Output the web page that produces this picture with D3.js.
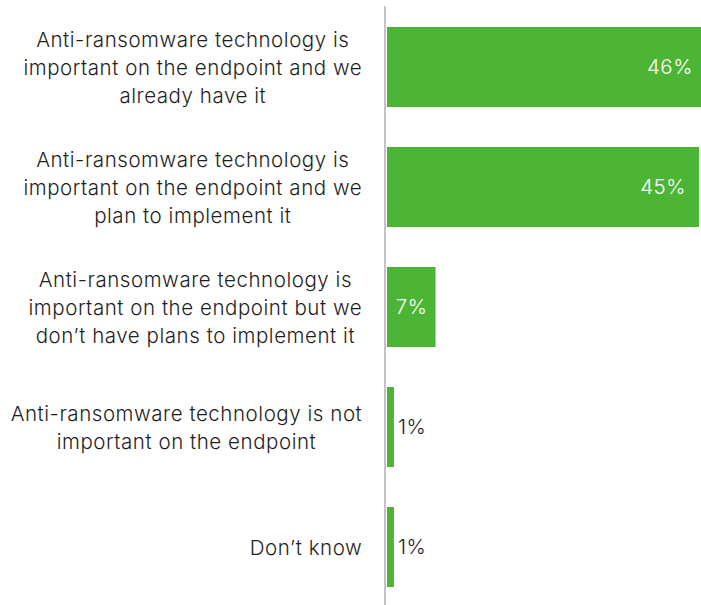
<!DOCTYPE html>
<html><head><meta charset="utf-8">
<script src="https://cdn.jsdelivr.net/npm/d3@7"></script>
<style>html,body{margin:0;padding:0;background:#fff;} svg{display:block;}</style>
</head><body>
<svg id="chart" width="701" height="605"></svg>
<script>
const categories = [
  ["Anti-ransomware technology is", "important on the endpoint and we", "already have it"],
  ["Anti-ransomware technology is", "important on the endpoint and we", "plan to implement it"],
  ["Anti-ransomware technology is", "important on the endpoint but we", "don’t have plans to implement it"],
  ["Anti-ransomware technology is not", "important on the endpoint"],
  ["Don’t know"]
];
const values = [46, 45, 7, 1, 1];
const valueLabels = ["46%", "45%", "7%", "1%", "1%"];

const svg = d3.select("#chart");
const font = "Inter, sans-serif";
const fs = 20.5, ls = 0.55;
const x = d3.scaleLinear().domain([0, 46]).range([387, 706]);
const y = d3.scaleBand().domain(d3.range(values.length)).range([7, 607]).paddingInner(1/3).paddingOuter(1/6);

svg.append("g").selectAll("rect").data(values).join("rect")
  .attr("x", x(0)).attr("y", (d,i) => y(i))
  .attr("width", d => x(d) - x(0)).attr("height", y.bandwidth())
  .attr("fill", "#4db535");

svg.append("line").attr("x1", 385).attr("x2", 385).attr("y1", 6).attr("y2", 605)
  .attr("stroke", "#c4c4c4").attr("stroke-width", 2);

const lineH = 28;
const labelRight = 362;
categories.forEach((lines, i) => {
  const g = svg.append("g");
  const cy = y(i) + y.bandwidth()/2 + 1;
  const t = g.selectAll("text").data(lines).join("text")
    .attr("y", (d,j) => cy + (j - (lines.length-1)/2) * lineH)
    .attr("dy", "0.35em")
    .attr("font-family", font).attr("font-size", fs).attr("font-weight", 300)
    .attr("letter-spacing", ls).attr("fill", "#1e1e1e")
    .attr("text-anchor", "middle").text(d => d);
  let maxW = 0;
  t.each(function(){ maxW = Math.max(maxW, this.getComputedTextLength() - ls); });
  t.attr("x", labelRight - maxW/2);
});

svg.append("g").selectAll("text").data(values).join("text")
  .attr("x", d => d > 20 ? x(d) - 13 : d > 5 ? x(d) - 8 : x(d) + 4)
  .attr("y", (d,i) => y(i) + y.bandwidth()/2)
  .attr("dy", "0.35em")
  .attr("text-anchor", d => d > 5 ? "end" : "start")
  .attr("font-family", font).attr("font-size", fs).attr("font-weight", 300)
  .attr("letter-spacing", ls)
  .attr("fill", d => d > 5 ? "#fff" : "#1e1e1e")
  .text((d,i) => valueLabels[i]);
</script>
</body></html>
